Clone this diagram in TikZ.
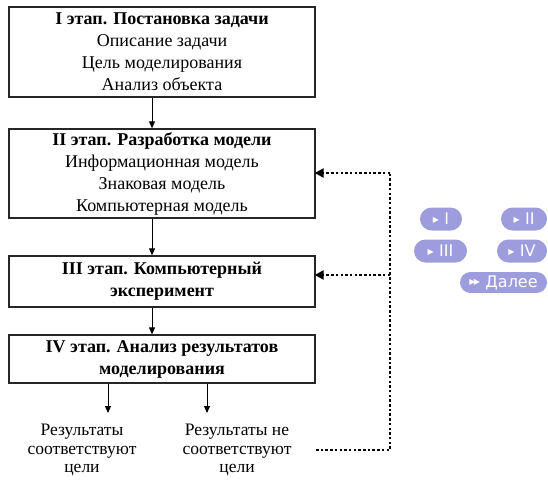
\documentclass[tikz,border=0pt]{standalone}
\usepackage{fontspec}
\setmainfont{Liberation Serif}
\newfontfamily\btnfont{DejaVu Sans}
\usetikzlibrary{arrows.meta}
\definecolor{btn}{HTML}{9D9CDC}
\newcommand{\tri}{\raisebox{2.6pt}{\fontsize{8}{8}\selectfont▶}}
\newcommand{\dtri}{\raisebox{2.6pt}{\fontsize{8}{8}\selectfont▶\kern-1.5pt▶}}
\tikzset{
  stagebox/.style={draw=black!85, line width=1.3pt, minimum width=306pt, align=center, inner sep=0pt, font=\fontsize{18}{22}\selectfont},
  arr/.style={line width=0.9pt, -{Triangle[length=7pt,width=6pt]}},
  dots/.style={line width=2.8pt, dash pattern=on 2.5pt off 2.2pt},
  dotarr/.style={dots, -{Triangle[length=9pt,width=9pt]}, shorten >=-1pt},
  restext/.style={align=center, inner sep=0pt, font=\fontsize{17.5}{18.3}\selectfont},
  pill/.style={fill=btn, rounded corners=11.5pt, minimum height=23pt, inner sep=0pt, text=white, font=\btnfont\fontsize{16}{16}\selectfont},
}
\begin{document}
\begin{tikzpicture}[x=1pt,y=-1pt]
\useasboundingbox (0,0) rectangle (548,481);
\node[stagebox, minimum height=90pt] (b1) at (162,52) {\textbf{I этап. Постановка задачи}\\Описание задачи\\Цель моделирования\\Анализ объекта};
\node[stagebox, minimum height=89pt] (b2) at (162,173.5) {\textbf{II этап. Разработка модели}\\Информационная модель\\Знаковая модель\\Компьютерная модель};
\node[stagebox, minimum height=51pt] (b3) at (162,281.5) {\textbf{III этап. Компьютерный}\\\textbf{эксперимент}};
\node[stagebox, minimum height=48pt] (b4) at (162,359) {\textbf{IV этап. Анализ результатов}\\\textbf{моделирования}};
\node[restext] (r1) at (82,450) {Результаты\\соответствуют\\цели};
\node[restext] (r2) at (237,450) {Результаты не\\соответствуют\\цели};
\coordinate (a1) at (108,413);
\coordinate (a2) at (207,413);
\coordinate (d0) at (316,450);
\coordinate (d1) at (390,450);
\coordinate (d2) at (390,173);
\coordinate (d3) at (390,275);
\draw[arr] (b1.south -| 152,0) -- (b2.north -| 152,0);
\draw[arr] (b2.south -| 152,0) -- (b3.north -| 152,0);
\draw[arr] (b3.south -| 152,0) -- (b4.north -| 152,0);
\draw[arr] (b4.south -| a1) -- (a1);
\draw[arr] (b4.south -| a2) -- (a2);
\draw[dots] (d0) -- (d1) -- (d2);
\draw[dotarr] (d2) -- (b2.east |- d2);
\draw[dotarr] (d3) -- (b3.east |- d3);
\node[pill, minimum width=42pt] (p1) at (441,219) {\tri\,\,I};
\node[pill, minimum width=46pt] (p2) at (524,219) {\tri\,\,II};
\node[pill, minimum width=53pt] (p3) at (440.5,251) {\tri\,\,III};
\node[pill, minimum width=50pt] (p4) at (522,251) {\tri\,\,IV};
\node[pill, minimum width=87pt, minimum height=21pt, rounded corners=10.5pt] (p5) at (503.5,282.5) {\dtri\,\,Далее};
\end{tikzpicture}
\end{document}
